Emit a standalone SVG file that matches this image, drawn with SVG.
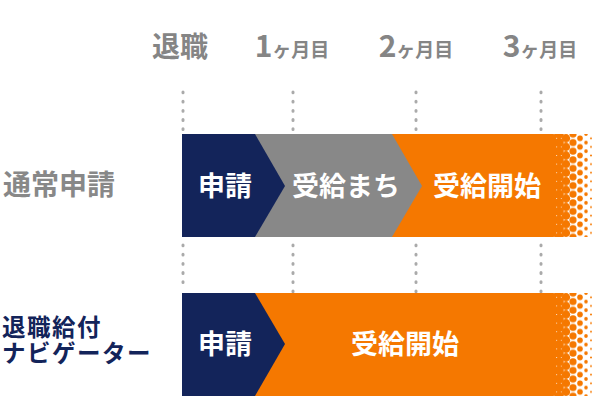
<svg xmlns="http://www.w3.org/2000/svg" width="594" height="412" viewBox="0 0 594 412">
<style>
.hdr{font-family:"Noto Sans CJK JP","Noto Sans",sans-serif;font-weight:700;fill:#858585;text-anchor:middle}
.lbl{font-family:"Noto Sans CJK JP",sans-serif;font-weight:700}
.bar{font-family:"Noto Sans CJK JP",sans-serif;font-weight:700;font-size:27px;fill:#fff;text-anchor:middle}
.dots{stroke:#aaaaaa;stroke-width:3;stroke-linecap:round;stroke-dasharray:0.8 8.4;fill:none}
.navy{fill:#13245a}
.gray{fill:#888888}
.orange{fill:#f57800}
</style>
<defs>
<pattern id="ht1" patternUnits="userSpaceOnUse" x="0" y="134" width="600" height="8.6">
<circle cx="559" cy="0" r="4.8" fill="#f57800"/><circle cx="559" cy="8.6" r="4.8" fill="#f57800"/>
<circle cx="566" cy="4.3" r="4.2" fill="#f57800"/>
<circle cx="573" cy="0" r="3.6" fill="#f57800"/><circle cx="573" cy="8.6" r="3.6" fill="#f57800"/>
<circle cx="580" cy="4.3" r="2.8" fill="#f57800"/>
<circle cx="586" cy="0" r="1.8" fill="#f57800"/><circle cx="586" cy="8.6" r="1.8" fill="#f57800"/>
<circle cx="591" cy="4.3" r="1" fill="#f57800"/>
</pattern>
<pattern id="ht2" href="#ht1" y="293"/>
</defs>

<g id="headers">
<text class="hdr" x="180" y="57" font-size="28">退職</text>
<text class="hdr" x="292" y="57"><tspan font-size="30">1</tspan><tspan font-size="19">ヶ月目</tspan></text>
<text class="hdr" x="416" y="57"><tspan font-size="30">2</tspan><tspan font-size="19">ヶ月目</tspan></text>
<text class="hdr" x="540" y="57"><tspan font-size="30">3</tspan><tspan font-size="19">ヶ月目</tspan></text>
</g>

<g id="gridlines">
<path class="dots" d="M183 92V131M293 92V131M416 92V131M541 92V131"/>
<path class="dots" d="M183 245V287M293 245V292M416 245V292M541 245V292"/>
</g>

<g id="label-normal">
<text class="lbl" x="3" y="195" font-size="28" fill="#888888">通常申請</text>
</g>
<g id="label-navi">
<text class="lbl" x="2" y="336" fill="#13245a" font-size="23.5" letter-spacing="1.5"><tspan x="2" y="336">退職給付</tspan><tspan x="2" y="362">ナビゲーター</tspan></text>
</g>

<g id="bar-normal">
<rect x="550" y="134" width="44" height="103" fill="url(#ht1)"/>
<rect class="orange" x="182" y="134" width="374" height="103" rx="3"/>
<rect class="orange" x="182" y="134" width="360" height="103"/>
<polygon class="gray" points="255,134 392,134 422,186 392,237 255,237"/>
<polygon class="navy" points="182,134 255,134 285,186 255,237 182,237"/>
<text class="bar" x="225" y="196">申請</text>
<text class="bar" x="346" y="196">受給まち</text>
<text class="bar" x="487" y="196">受給開始</text>
</g>

<g id="bar-navi">
<rect x="550" y="293" width="44" height="103" fill="url(#ht2)"/>
<rect class="orange" x="182" y="293" width="374" height="103" rx="3"/>
<rect class="orange" x="182" y="293" width="360" height="103"/>
<polygon class="navy" points="182,293 255,293 285,344 255,396 182,396"/>
<text class="bar" x="225" y="354">申請</text>
<text class="bar" x="405" y="354">受給開始</text>
</g>
</svg>
